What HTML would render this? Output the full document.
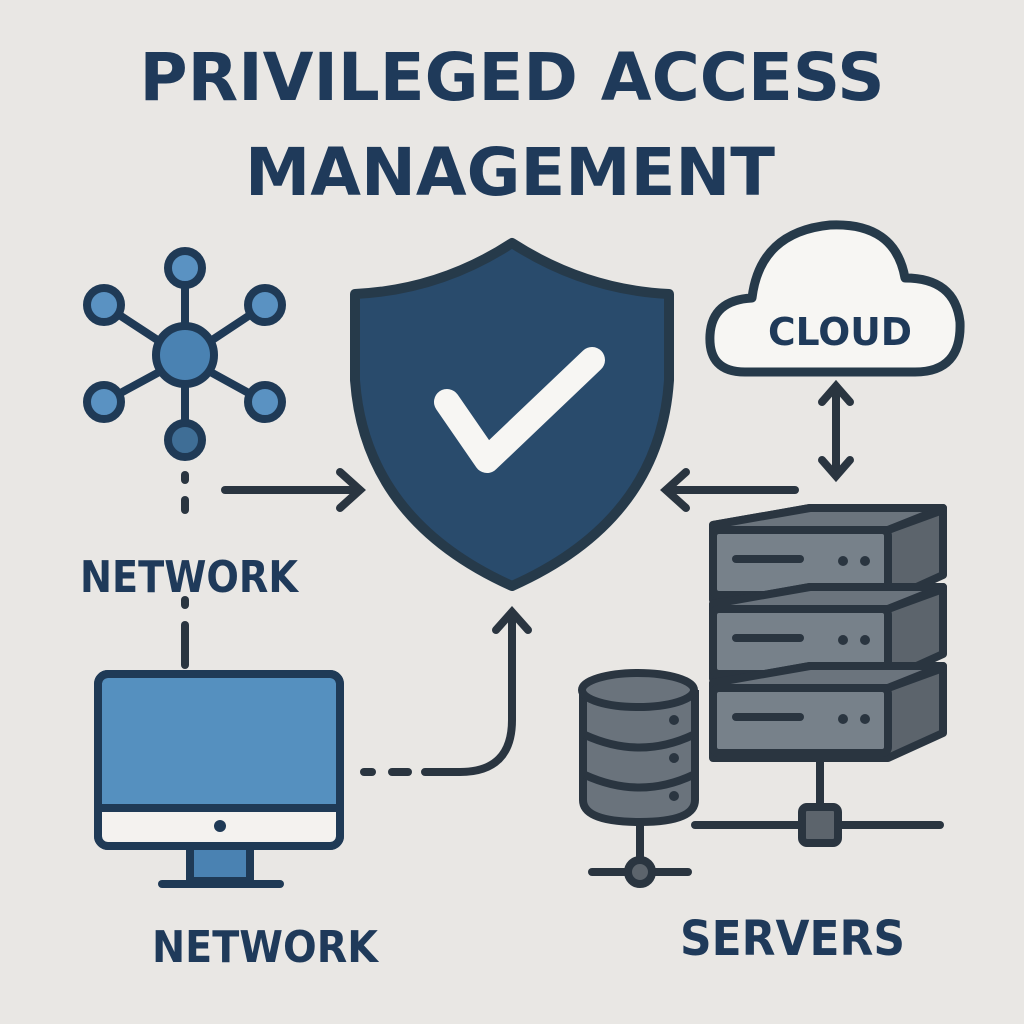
<!DOCTYPE html>
<html><head><meta charset="utf-8"><style>
html,body{margin:0;padding:0;background:#e9e7e4;}
svg{display:block}
text{font-family:"DejaVu Sans","Liberation Sans",sans-serif;font-weight:bold;fill:#1f3a5a;}
</style></head><body>
<svg width="1024" height="1024" viewBox="0 0 1024 1024" xmlns="http://www.w3.org/2000/svg">
<rect width="1024" height="1024" fill="#e9e7e4"/>
<text x="512" y="100" font-size="66" text-anchor="middle" textLength="745" lengthAdjust="spacingAndGlyphs">PRIVILEGED ACCESS</text>
<text x="510" y="195" font-size="66" text-anchor="middle" textLength="530" lengthAdjust="spacingAndGlyphs">MANAGEMENT</text>

<!-- network icon -->
<g stroke="#1f3a56" stroke-width="8" stroke-linecap="round">
<line x1="185" y1="358" x2="185" y2="268"/><line x1="185" y1="358" x2="185" y2="455"/>
<line x1="185" y1="358" x2="104" y2="305"/><line x1="185" y1="358" x2="265" y2="305"/>
<line x1="185" y1="358" x2="104" y2="402"/><line x1="185" y1="358" x2="265" y2="402"/>
<circle cx="185" cy="355" r="29" fill="#4a82b2"/>
<circle cx="185" cy="268" r="17" fill="#5a92c2"/>
<circle cx="104" cy="305" r="17" fill="#5a92c2"/>
<circle cx="265" cy="305" r="17" fill="#5a92c2"/>
<circle cx="104" cy="402" r="17" fill="#5a92c2"/>
<circle cx="265" cy="402" r="17" fill="#5a92c2"/>
<circle cx="185" cy="440" r="17" fill="#3f6e96"/>
</g>
<g stroke="#2a3540" stroke-width="8" stroke-linecap="round" fill="none">
<line x1="185" y1="475" x2="185" y2="480"/><line x1="185" y1="500" x2="185" y2="510"/>
<line x1="185" y1="600" x2="185" y2="605"/><line x1="185" y1="625" x2="185" y2="665"/>
<line x1="225" y1="490" x2="358" y2="490"/><polyline points="340,472 360,490 340,508"/>
<line x1="795" y1="490" x2="668" y2="490"/><polyline points="686,472 666,490 686,508"/>
<line x1="836" y1="388" x2="836" y2="474"/>
<polyline points="822,402 836,386 850,402"/><polyline points="822,460 836,476 850,460"/>
<line x1="364" y1="772" x2="372" y2="772"/><line x1="392" y1="772" x2="408" y2="772"/>
<path d="M425 772 H460 Q512 772 512 720 V614"/>
<polyline points="496,630 512,612 528,630"/>
</g>
<text x="80" y="592" font-size="44" textLength="218" lengthAdjust="spacingAndGlyphs">NETWORK</text>

<!-- monitor -->
<g stroke="#1f3a56" stroke-width="8" stroke-linejoin="round">
<rect x="190" y="845" width="60" height="36" fill="#4a82b2"/>
<line x1="162" y1="884" x2="280" y2="884" stroke-linecap="round"/>
<rect x="98" y="674" width="242" height="172" rx="10" fill="#5590bf"/>
<path d="M102 808 H336 V836 Q336 842 330 842 H108 Q102 842 102 836 Z" fill="#f4f2ef" stroke="none"/>
<line x1="98" y1="808" x2="340" y2="808"/>
<rect x="98" y="674" width="242" height="172" rx="10" fill="none"/>
</g>
<circle cx="220" cy="826" r="6" fill="#1f3a56"/>
<text x="152" y="962" font-size="44" textLength="226" lengthAdjust="spacingAndGlyphs">NETWORK</text>

<!-- shield -->
<path d="M512 243 Q440 290 355 294 V380 Q365 520 512 586 Q660 520 669 380 V294 Q585 290 512 243 Z" fill="#294b6c" stroke="#263a4a" stroke-width="10" stroke-linejoin="round"/>
<polyline points="447,402 487,460 592,360" fill="none" stroke="#f7f6f3" stroke-width="26" stroke-linecap="round" stroke-linejoin="round"/>

<!-- cloud -->
<path d="M745 372 Q708 372 710 335 Q712 300 752 298 Q760 232 830 225 Q895 222 905 278 Q955 278 960 322 Q962 372 915 372 Z" fill="#f7f6f3" stroke="#263a4a" stroke-width="9" stroke-linejoin="round"/>
<text x="768" y="345" font-size="38" textLength="144" lengthAdjust="spacingAndGlyphs">CLOUD</text>

<!-- servers -->
<g stroke="#2a3540" stroke-width="8" stroke-linejoin="round">
<g id="srv">
<path d="M713 525 L810 508 H943 V575 L888 600 H713 Z" fill="#5c646c"/>
<path d="M713 525 L810 508 H943 L888 530 H713 Z" fill="#6b747d"/>
<rect x="713" y="530" width="175" height="65" rx="6" fill="#77818a"/>
<path d="M888 530 L943 510" fill="none"/>
<line x1="736" y1="559" x2="800" y2="559" stroke-width="8" stroke-linecap="round"/>
</g>
<use href="#srv" transform="translate(0,79)"/>
<use href="#srv" transform="translate(0,158)"/>
<line x1="820" y1="755" x2="820" y2="808"/>
<line x1="695" y1="825" x2="940" y2="825" stroke-linecap="round"/>
<rect x="802" y="807" width="36" height="36" rx="5" fill="#5c646c"/>
<!-- db -->
<path d="M583 690 V800 Q583 822 640 822 Q695 822 695 800 V690" fill="#6a737c"/>
<ellipse cx="638" cy="690" rx="56" ry="17" fill="#6a737c"/>
<path d="M585 735 Q640 760 693 735 M585 775 Q640 800 693 775" fill="none"/>
<line x1="640" y1="822" x2="640" y2="862"/>
<line x1="592" y1="872" x2="688" y2="872" stroke-linecap="round"/>
<circle cx="640" cy="872" r="12" fill="#5c646c"/>
</g>
<g fill="#2a3540">
<circle cx="843" cy="561" r="5"/><circle cx="865" cy="561" r="5"/>
<circle cx="843" cy="640" r="5"/><circle cx="865" cy="640" r="5"/>
<circle cx="843" cy="719" r="5"/><circle cx="865" cy="719" r="5"/>
<circle cx="674" cy="720" r="5"/><circle cx="674" cy="758" r="5"/><circle cx="674" cy="796" r="5"/>
</g>
<text x="680" y="955" font-size="48" textLength="225" lengthAdjust="spacingAndGlyphs">SERVERS</text>
</svg>
</body></html>
